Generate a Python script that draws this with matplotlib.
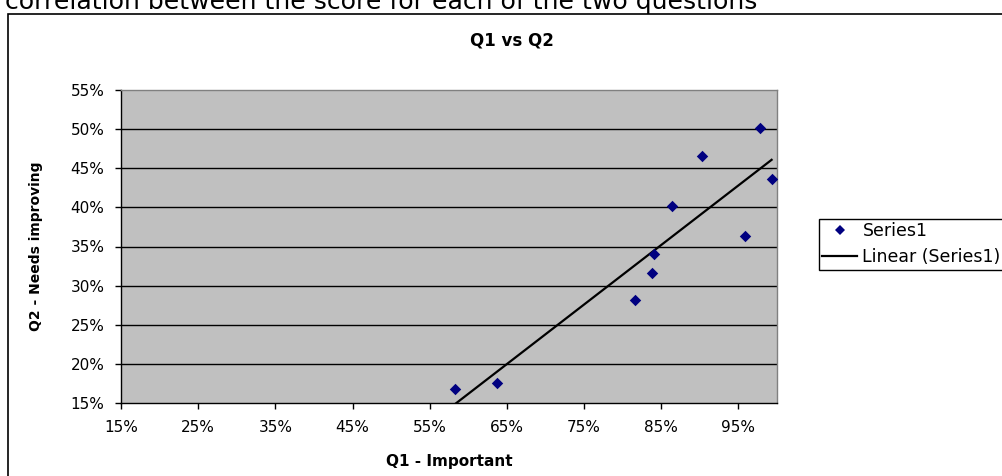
import numpy as np
import matplotlib
matplotlib.use("Agg")
import matplotlib.pyplot as plt
from matplotlib import ticker
from matplotlib.patches import Rectangle
from matplotlib.lines import Line2D

plt.rcParams['font.family'] = ['DejaVu Sans']

# data (percent)
q1_important = [58.3, 63.7, 81.6, 83.8, 84.0, 86.4, 90.3, 95.8, 97.8, 99.3]
q2_needs_improving = [16.8, 17.5, 28.1, 31.6, 34.1, 40.2, 46.6, 36.4, 50.2, 43.6]
x_ticks = [15, 25, 35, 45, 55, 65, 75, 85, 95]
y_ticks = [15, 20, 25, 30, 35, 40, 45, 50, 55]

W, H = 1003, 476
fig = plt.figure(figsize=(W / 100, H / 100), dpi=100)

# chart area border (runs off the right and bottom edges)
fig.patches.append(Rectangle((8 / W, -0.2), 1.2, 1 - 14 / H + 0.2,
                             transform=fig.transFigure, fill=False,
                             edgecolor='black', lw=1.2))

# heading text, cut off at the top like in the original
head = fig.text(5 / W, 1 - 9.5 / H,
                "correlation between the score for each of the two questions",
                fontsize=16, va='baseline', ha='left')
r = fig.canvas.get_renderer()
w = head.get_window_extent(r).width
head.set_fontsize(16 * 755 / w)

ax = fig.add_axes([121 / W, (H - 403) / H, (777 - 121) / W, (403 - 90) / H])
ax.set_facecolor('#C0C0C0')
ax.set_xlim(15, 100)
ax.set_ylim(15, 55)
ax.set_xticks(x_ticks)
ax.set_yticks(y_ticks)
ax.xaxis.set_major_formatter(ticker.PercentFormatter(decimals=0))
ax.yaxis.set_major_formatter(ticker.PercentFormatter(decimals=0))
ax.tick_params(direction='out', length=4, width=1, labelsize=11, pad=8, color='black')

for s in ax.spines.values():
    s.set_color('#808080')
    s.set_linewidth(1)
ax.spines['left'].set_color('black')
ax.spines['bottom'].set_color('black')

for y in y_ticks[1:-1]:
    ax.axhline(y, color='black', lw=1, zorder=1)

ax.scatter(q1_important, q2_needs_improving, marker='D', s=34, color='#000080',
           zorder=3, linewidths=0)

# linear trend line
k, b = np.polyfit(q1_important, q2_needs_improving, 1)
xs = np.array([min(q1_important), max(q1_important)])
ax.plot(xs, k * xs + b, color='black', lw=1.6, zorder=2)

ax.set_xlabel('Q1 - Important', fontsize=11, fontweight='bold', labelpad=14)
ax.set_ylabel('Q2 - Needs improving', fontsize=10, fontweight='bold')
ax.yaxis.set_label_coords(-0.119, 0.5)
fig.text(512 / W, 1 - 41 / H, 'Q1 vs Q2', fontsize=12, fontweight='bold',
         ha='center', va='center')

handles = [Line2D([], [], ls='none', marker='D', ms=5, color='#000080', mew=0),
           Line2D([], [], color='black', lw=1.6)]
leg = fig.legend(handles, ['Series1', 'Linear (Series1)'], loc='upper left',
                 bbox_to_anchor=(819 / W, 1 - 219 / H), borderaxespad=0,
                 fancybox=False, edgecolor='black', fontsize=12.5,
                 handlelength=2.0, handletextpad=0.3, borderpad=0.2,
                 labelspacing=0.45, framealpha=1)
leg.get_frame().set_linewidth(1)

fig.savefig('out.png', dpi=100)
